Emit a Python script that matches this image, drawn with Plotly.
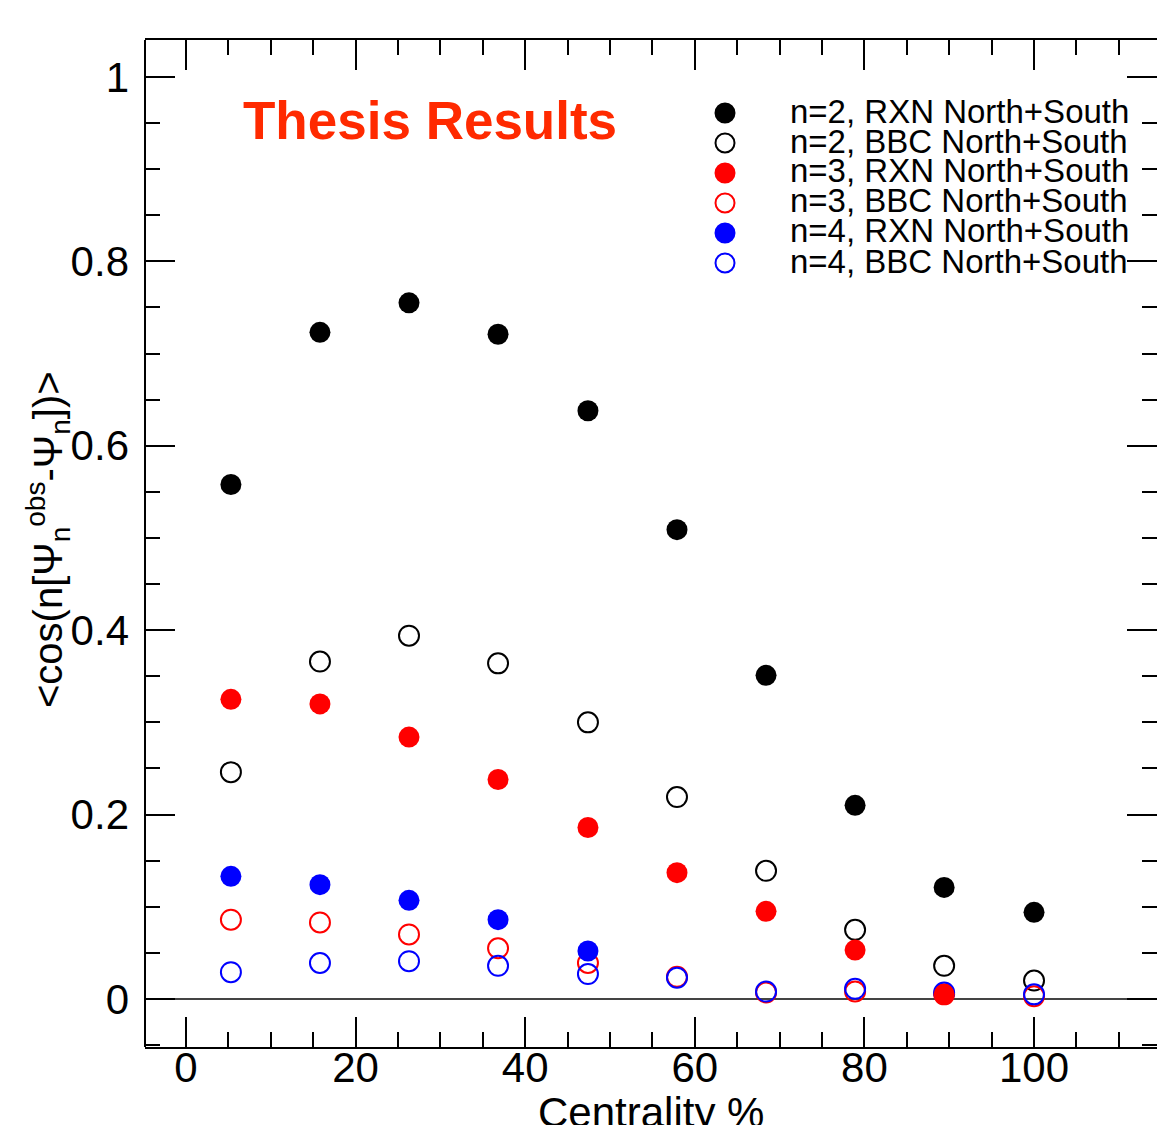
import plotly.graph_objects as go

# centrality bin centres (%)
centrality = [5.3, 15.8, 26.3, 36.8, 47.4, 57.9, 68.4, 78.9, 89.4, 100.0]

# <cos(n[Psi_obs - Psi])> resolution values
n2_rxn = [0.558, 0.723, 0.755, 0.721, 0.638, 0.509, 0.351, 0.210, 0.121, 0.094]
n2_bbc = [0.246, 0.366, 0.394, 0.364, 0.300, 0.219, 0.139, 0.075, 0.036, 0.020]
n3_rxn = [0.325, 0.320, 0.284, 0.238, 0.186, 0.137, 0.095, 0.053, 0.005]
n3_bbc = [0.086, 0.083, 0.070, 0.055, 0.039, 0.024, 0.007, 0.008, 0.005, 0.003]
n4_rxn = [0.133, 0.124, 0.107, 0.086, 0.052]
n4_bbc = [0.029, 0.039, 0.041, 0.036, 0.027, 0.023, 0.008, 0.011, 0.007, 0.005]

legend_labels = [
    "n=2, RXN North+South",
    "n=2, BBC North+South",
    "n=3, RXN North+South",
    "n=3, BBC North+South",
    "n=4, RXN North+South",
    "n=4, BBC North+South",
]

FONT = "Liberation Sans, Arial, Helvetica, sans-serif"

# label, values, color, filled
series = [
    (legend_labels[1], n2_bbc, "black", False),
    (legend_labels[3], n3_bbc, "red", False),
    (legend_labels[5], n4_bbc, "blue", False),
    (legend_labels[0], n2_rxn, "black", True),
    (legend_labels[2], n3_rxn, "red", True),
    (legend_labels[4], n4_rxn, "blue", True),
]

fig = go.Figure()

for name, vals, color, filled in series:
    if filled:
        marker = dict(symbol="circle", size=21, color=color, line=dict(width=0))
    else:
        marker = dict(symbol="circle-open", size=20, color=color, line=dict(width=2, color=color))
    fig.add_trace(go.Scatter(
        x=centrality[:len(vals)], y=vals, mode="markers", name=name,
        marker=marker, showlegend=False, cliponaxis=False,
    ))

# hand-made legend (compact row spacing like the original)
legend_colors = ["black", "black", "red", "red", "blue", "blue"]
legend_filled = [True, False, True, False, True, False]
W, H, L, T = 1157, 1125, 145, 40
PW, PH = W - L, 1047 - T


def px_x(p):
    return (p - L) / PW


def px_y(p):
    return (1047 - p) / PH


for i, lab in enumerate(legend_labels):
    yc = 113 + 30 * i
    r = 10.5 if legend_filled[i] else 9.5
    fig.add_shape(
        type="circle", xref="paper", yref="paper",
        xsizemode="pixel", ysizemode="pixel",
        xanchor=px_x(725), yanchor=px_y(yc),
        x0=-r, x1=r, y0=-r, y1=r,
        fillcolor=legend_colors[i] if legend_filled[i] else "rgba(0,0,0,0)",
        line=dict(color=legend_colors[i], width=0 if legend_filled[i] else 2),
    )
    fig.add_annotation(
        x=px_x(788), y=px_y(yc - 2), xref="paper", yref="paper",
        text=lab, showarrow=False, xanchor="left", yanchor="middle",
        font=dict(family=FONT, size=33, color="black"),
    )

fig.add_annotation(
    x=px_x(430), y=px_y(120), xref="paper", yref="paper",
    text="<b>Thesis Results</b>", showarrow=False,
    xanchor="center", yanchor="middle",
    font=dict(family=FONT, size=53, color="#ff2a00"),
)

# axis titles
fig.add_annotation(
    x=px_x(48), y=px_y(540), xref="paper", yref="paper",
    text="&lt;cos(n[Ψ<sub>n</sub><sup>obs</sup>-Ψ<sub>n</sub>])&gt;",
    textangle=-90, showarrow=False, xanchor="center", yanchor="middle",
    font=dict(family=FONT, size=40, color="black"),
)
fig.add_annotation(
    x=px_x(651), y=px_y(1112), xref="paper", yref="paper",
    text="Centrality %", showarrow=False, xanchor="center", yanchor="middle",
    font=dict(family=FONT, size=42, color="black"),
)

# left frame line only (right frame sits just outside the picture)
fig.add_shape(
    type="line", xref="paper", yref="paper", x0=0, x1=0, y0=0, y1=1,
    line=dict(color="black", width=2),
)

axis_common = dict(
    linecolor="black", linewidth=2, mirror="ticks",
    ticks="inside", ticklen=30, tickwidth=2, tickcolor="black",
    showgrid=False,
    tickfont=dict(family=FONT, size=42, color="black"),
)

fig.update_xaxes(
    range=[-4.83, 114.5], tick0=0, dtick=20, zeroline=False,
    showline=True, ticklabelstandoff=-17,
    minor=dict(tick0=0, dtick=5, ticks="inside", ticklen=15, tickwidth=2,
               tickcolor="black", showgrid=False),
    **axis_common,
)
fig.update_yaxes(
    range=[-0.0521, 1.0401], tick0=0, dtick=0.2,
    zeroline=True, zerolinecolor="#444444", zerolinewidth=2,
    showline=False, ticklabelstandoff=15,
    minor=dict(tick0=0, dtick=0.05, ticks="inside", ticklen=15, tickwidth=2,
               tickcolor="black", showgrid=False),
    **axis_common,
)

fig.update_layout(
    width=W, height=H,
    margin=dict(l=L, r=0, t=T, b=H - 1047),
    plot_bgcolor="white", paper_bgcolor="white",
    font=dict(family=FONT, color="black"),
    showlegend=False,
)

fig.write_html(
    "out.html",
    config={"displayModeBar": False},
    post_script="document.body.style.margin='0';document.body.style.overflow='hidden';",
)
